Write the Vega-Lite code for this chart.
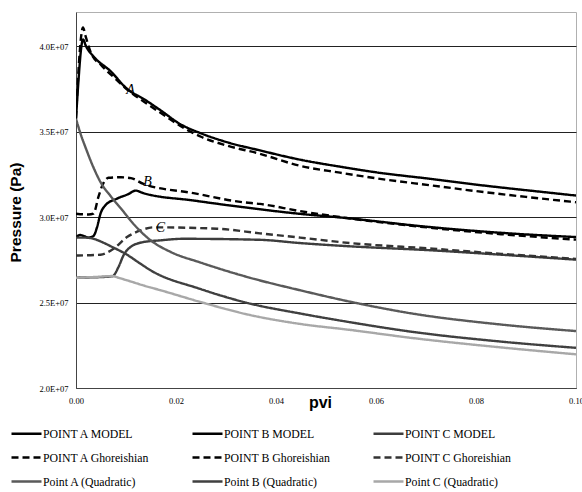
{
  "$schema": "https://vega.github.io/schema/vega-lite/v6.json",
  "width": 500,
  "height": 376,
  "autosize": {"type": "none"},
  "padding": {"left": 76, "top": 12, "right": 6, "bottom": 104},
  "background": "white",
  "config": {"view": {"stroke": "#b0b0b0", "strokeWidth": 1}},
  "datasets": {
    "curves": [
      {"s": "POINT A MODEL", "x": 0, "p": 3.575e7},
      {"s": "POINT A MODEL", "x": 0.0005, "p": 3.80e7},
      {"s": "POINT A MODEL", "x": 0.001, "p": 3.98e7},
      {"s": "POINT A MODEL", "x": 0.0014, "p": 4.04e7},
      {"s": "POINT A MODEL", "x": 0.002, "p": 4.00e7},
      {"s": "POINT A MODEL", "x": 0.0035, "p": 3.94e7},
      {"s": "POINT A MODEL", "x": 0.0069, "p": 3.854e7},
      {"s": "POINT A MODEL", "x": 0.0103, "p": 3.748e7},
      {"s": "POINT A MODEL", "x": 0.0136, "p": 3.69e7},
      {"s": "POINT A MODEL", "x": 0.0169, "p": 3.625e7},
      {"s": "POINT A MODEL", "x": 0.0208, "p": 3.545e7},
      {"s": "POINT A MODEL", "x": 0.025, "p": 3.49e7},
      {"s": "POINT A MODEL", "x": 0.03, "p": 3.44e7},
      {"s": "POINT A MODEL", "x": 0.0368, "p": 3.39e7},
      {"s": "POINT A MODEL", "x": 0.0448, "p": 3.336e7},
      {"s": "POINT A MODEL", "x": 0.0528, "p": 3.295e7},
      {"s": "POINT A MODEL", "x": 0.06, "p": 3.262e7},
      {"s": "POINT A MODEL", "x": 0.0714, "p": 3.222e7},
      {"s": "POINT A MODEL", "x": 0.08, "p": 3.19e7},
      {"s": "POINT A MODEL", "x": 0.086, "p": 3.17e7},
      {"s": "POINT A MODEL", "x": 0.093, "p": 3.148e7},
      {"s": "POINT A MODEL", "x": 0.1, "p": 3.126e7},

      {"s": "POINT B MODEL", "x": 0, "p": 2.88e7},
      {"s": "POINT B MODEL", "x": 0.0008, "p": 2.895e7},
      {"s": "POINT B MODEL", "x": 0.0015, "p": 2.89e7},
      {"s": "POINT B MODEL", "x": 0.0025, "p": 2.88e7},
      {"s": "POINT B MODEL", "x": 0.0035, "p": 2.89e7},
      {"s": "POINT B MODEL", "x": 0.0042, "p": 2.94e7},
      {"s": "POINT B MODEL", "x": 0.0049, "p": 3.02e7},
      {"s": "POINT B MODEL", "x": 0.0059, "p": 3.07e7},
      {"s": "POINT B MODEL", "x": 0.0082, "p": 3.108e7},
      {"s": "POINT B MODEL", "x": 0.0105, "p": 3.135e7},
      {"s": "POINT B MODEL", "x": 0.0119, "p": 3.155e7},
      {"s": "POINT B MODEL", "x": 0.0135, "p": 3.14e7},
      {"s": "POINT B MODEL", "x": 0.0235, "p": 3.097e7},
      {"s": "POINT B MODEL", "x": 0.0334, "p": 3.058e7},
      {"s": "POINT B MODEL", "x": 0.0448, "p": 3.019e7},
      {"s": "POINT B MODEL", "x": 0.0528, "p": 2.998e7},
      {"s": "POINT B MODEL", "x": 0.0714, "p": 2.94e7},
      {"s": "POINT B MODEL", "x": 0.085, "p": 2.908e7},
      {"s": "POINT B MODEL", "x": 0.1, "p": 2.883e7},

      {"s": "POINT C MODEL", "x": 0, "p": 2.646e7},
      {"s": "POINT C MODEL", "x": 0.004, "p": 2.648e7},
      {"s": "POINT C MODEL", "x": 0.0073, "p": 2.654e7},
      {"s": "POINT C MODEL", "x": 0.0085, "p": 2.708e7},
      {"s": "POINT C MODEL", "x": 0.0095, "p": 2.776e7},
      {"s": "POINT C MODEL", "x": 0.0109, "p": 2.825e7},
      {"s": "POINT C MODEL", "x": 0.0135, "p": 2.854e7},
      {"s": "POINT C MODEL", "x": 0.0169, "p": 2.864e7},
      {"s": "POINT C MODEL", "x": 0.0214, "p": 2.873e7},
      {"s": "POINT C MODEL", "x": 0.0368, "p": 2.867e7},
      {"s": "POINT C MODEL", "x": 0.0448, "p": 2.848e7},
      {"s": "POINT C MODEL", "x": 0.0548, "p": 2.829e7},
      {"s": "POINT C MODEL", "x": 0.0714, "p": 2.805e7},
      {"s": "POINT C MODEL", "x": 0.085, "p": 2.78e7},
      {"s": "POINT C MODEL", "x": 0.1, "p": 2.751e7},

      {"s": "POINT A Ghoreishian", "x": 0, "p": 3.58e7},
      {"s": "POINT A Ghoreishian", "x": 0.0005, "p": 3.86e7},
      {"s": "POINT A Ghoreishian", "x": 0.001, "p": 4.05e7},
      {"s": "POINT A Ghoreishian", "x": 0.0014, "p": 4.11e7},
      {"s": "POINT A Ghoreishian", "x": 0.0019, "p": 4.06e7},
      {"s": "POINT A Ghoreishian", "x": 0.003, "p": 3.96e7},
      {"s": "POINT A Ghoreishian", "x": 0.005, "p": 3.89e7},
      {"s": "POINT A Ghoreishian", "x": 0.0075, "p": 3.82e7},
      {"s": "POINT A Ghoreishian", "x": 0.0103, "p": 3.745e7},
      {"s": "POINT A Ghoreishian", "x": 0.0136, "p": 3.675e7},
      {"s": "POINT A Ghoreishian", "x": 0.0169, "p": 3.61e7},
      {"s": "POINT A Ghoreishian", "x": 0.0208, "p": 3.535e7},
      {"s": "POINT A Ghoreishian", "x": 0.025, "p": 3.47e7},
      {"s": "POINT A Ghoreishian", "x": 0.03, "p": 3.42e7},
      {"s": "POINT A Ghoreishian", "x": 0.0368, "p": 3.37e7},
      {"s": "POINT A Ghoreishian", "x": 0.0448, "p": 3.30e7},
      {"s": "POINT A Ghoreishian", "x": 0.0528, "p": 3.26e7},
      {"s": "POINT A Ghoreishian", "x": 0.06, "p": 3.227e7},
      {"s": "POINT A Ghoreishian", "x": 0.0714, "p": 3.184e7},
      {"s": "POINT A Ghoreishian", "x": 0.08, "p": 3.152e7},
      {"s": "POINT A Ghoreishian", "x": 0.09, "p": 3.118e7},
      {"s": "POINT A Ghoreishian", "x": 0.1, "p": 3.087e7},

      {"s": "POINT B Ghoreishian", "x": 0, "p": 3.02e7},
      {"s": "POINT B Ghoreishian", "x": 0.0025, "p": 3.015e7},
      {"s": "POINT B Ghoreishian", "x": 0.0035, "p": 3.02e7},
      {"s": "POINT B Ghoreishian", "x": 0.0045, "p": 3.12e7},
      {"s": "POINT B Ghoreishian", "x": 0.0055, "p": 3.20e7},
      {"s": "POINT B Ghoreishian", "x": 0.0065, "p": 3.23e7},
      {"s": "POINT B Ghoreishian", "x": 0.009, "p": 3.233e7},
      {"s": "POINT B Ghoreishian", "x": 0.011, "p": 3.228e7},
      {"s": "POINT B Ghoreishian", "x": 0.0135, "p": 3.194e7},
      {"s": "POINT B Ghoreishian", "x": 0.0235, "p": 3.14e7},
      {"s": "POINT B Ghoreishian", "x": 0.0334, "p": 3.087e7},
      {"s": "POINT B Ghoreishian", "x": 0.0368, "p": 3.077e7},
      {"s": "POINT B Ghoreishian", "x": 0.0448, "p": 3.035e7},
      {"s": "POINT B Ghoreishian", "x": 0.0528, "p": 3.0e7},
      {"s": "POINT B Ghoreishian", "x": 0.0714, "p": 2.936e7},
      {"s": "POINT B Ghoreishian", "x": 0.085, "p": 2.90e7},
      {"s": "POINT B Ghoreishian", "x": 0.1, "p": 2.868e7},

      {"s": "POINT C Ghoreishian", "x": 0, "p": 2.775e7},
      {"s": "POINT C Ghoreishian", "x": 0.0049, "p": 2.78e7},
      {"s": "POINT C Ghoreishian", "x": 0.0075, "p": 2.815e7},
      {"s": "POINT C Ghoreishian", "x": 0.0102, "p": 2.883e7},
      {"s": "POINT C Ghoreishian", "x": 0.0129, "p": 2.922e7},
      {"s": "POINT C Ghoreishian", "x": 0.0155, "p": 2.94e7},
      {"s": "POINT C Ghoreishian", "x": 0.0282, "p": 2.932e7},
      {"s": "POINT C Ghoreishian", "x": 0.0368, "p": 2.905e7},
      {"s": "POINT C Ghoreishian", "x": 0.0448, "p": 2.88e7},
      {"s": "POINT C Ghoreishian", "x": 0.0548, "p": 2.848e7},
      {"s": "POINT C Ghoreishian", "x": 0.0714, "p": 2.815e7},
      {"s": "POINT C Ghoreishian", "x": 0.085, "p": 2.785e7},
      {"s": "POINT C Ghoreishian", "x": 0.1, "p": 2.755e7},

      {"s": "Point A (Quadratic)", "x": 0, "p": 3.575e7},
      {"s": "Point A (Quadratic)", "x": 0.001, "p": 3.48e7},
      {"s": "Point A (Quadratic)", "x": 0.002, "p": 3.40e7},
      {"s": "Point A (Quadratic)", "x": 0.0035, "p": 3.29e7},
      {"s": "Point A (Quadratic)", "x": 0.005, "p": 3.20e7},
      {"s": "Point A (Quadratic)", "x": 0.007, "p": 3.12e7},
      {"s": "Point A (Quadratic)", "x": 0.009, "p": 3.05e7},
      {"s": "Point A (Quadratic)", "x": 0.0115, "p": 2.96e7},
      {"s": "Point A (Quadratic)", "x": 0.0149, "p": 2.865e7},
      {"s": "Point A (Quadratic)", "x": 0.019, "p": 2.795e7},
      {"s": "Point A (Quadratic)", "x": 0.0248, "p": 2.735e7},
      {"s": "Point A (Quadratic)", "x": 0.0348, "p": 2.645e7},
      {"s": "Point A (Quadratic)", "x": 0.0448, "p": 2.572e7},
      {"s": "Point A (Quadratic)", "x": 0.0548, "p": 2.505e7},
      {"s": "Point A (Quadratic)", "x": 0.0674, "p": 2.435e7},
      {"s": "Point A (Quadratic)", "x": 0.0841, "p": 2.374e7},
      {"s": "Point A (Quadratic)", "x": 0.1, "p": 2.333e7},

      {"s": "Point B (Quadratic)", "x": 0, "p": 2.88e7},
      {"s": "Point B (Quadratic)", "x": 0.002, "p": 2.88e7},
      {"s": "Point B (Quadratic)", "x": 0.0035, "p": 2.873e7},
      {"s": "Point B (Quadratic)", "x": 0.0055, "p": 2.85e7},
      {"s": "Point B (Quadratic)", "x": 0.0069, "p": 2.83e7},
      {"s": "Point B (Quadratic)", "x": 0.0102, "p": 2.78e7},
      {"s": "Point B (Quadratic)", "x": 0.0125, "p": 2.735e7},
      {"s": "Point B (Quadratic)", "x": 0.0149, "p": 2.689e7},
      {"s": "Point B (Quadratic)", "x": 0.0248, "p": 2.58e7},
      {"s": "Point B (Quadratic)", "x": 0.0348, "p": 2.494e7},
      {"s": "Point B (Quadratic)", "x": 0.0448, "p": 2.436e7},
      {"s": "Point B (Quadratic)", "x": 0.0548, "p": 2.385e7},
      {"s": "Point B (Quadratic)", "x": 0.0674, "p": 2.328e7},
      {"s": "Point B (Quadratic)", "x": 0.0841, "p": 2.274e7},
      {"s": "Point B (Quadratic)", "x": 0.1, "p": 2.235e7},

      {"s": "Point C (Quadratic)", "x": 0, "p": 2.645e7},
      {"s": "Point C (Quadratic)", "x": 0.004, "p": 2.65e7},
      {"s": "Point C (Quadratic)", "x": 0.0073, "p": 2.655e7},
      {"s": "Point C (Quadratic)", "x": 0.0085, "p": 2.645e7},
      {"s": "Point C (Quadratic)", "x": 0.0102, "p": 2.63e7},
      {"s": "Point C (Quadratic)", "x": 0.0135, "p": 2.60e7},
      {"s": "Point C (Quadratic)", "x": 0.0169, "p": 2.572e7},
      {"s": "Point C (Quadratic)", "x": 0.0248, "p": 2.504e7},
      {"s": "Point C (Quadratic)", "x": 0.0348, "p": 2.427e7},
      {"s": "Point C (Quadratic)", "x": 0.0448, "p": 2.375e7},
      {"s": "Point C (Quadratic)", "x": 0.0548, "p": 2.34e7},
      {"s": "Point C (Quadratic)", "x": 0.0674, "p": 2.292e7},
      {"s": "Point C (Quadratic)", "x": 0.0841, "p": 2.24e7},
      {"s": "Point C (Quadratic)", "x": 0.1, "p": 2.197e7}
    ],
    "notes": [
      {"x": 0.0109, "p": 3.742e7, "t": "A"},
      {"x": 0.0143, "p": 3.203e7, "t": "B"},
      {"x": 0.0169, "p": 2.935e7, "t": "C"}
    ]
  },
  "encoding": {
    "x": {
      "field": "x", "type": "quantitative",
      "scale": {"domain": [0, 0.1], "nice": false, "zero": false},
      "axis": {
        "values": [0, 0.02, 0.04, 0.06, 0.08, 0.1], "format": ".2f",
        "title": "pvi", "grid": false, "ticks": false,
        "labelPadding": 8, "labelFont": "Liberation Serif", "labelFontSize": 8.5,
        "labelColor": "#000", "labelFlush": false, "labelOverlap": false,
        "domainColor": "#444", "domainWidth": 1,
        "titleFont": "Liberation Sans", "titleFontSize": 16, "titleFontWeight": "bold",
        "titleColor": "#000", "titleX": 244, "titleY": 19, "titleBaseline": "alphabetic", "titleAlign": "center"
      }
    },
    "y": {
      "field": "p", "type": "quantitative",
      "scale": {"domain": [2e7, 4.2e7], "nice": false, "zero": false},
      "axis": {
        "values": [2e7, 2.5e7, 3e7, 3.5e7, 4e7],
        "labelExpr": "format(datum.value/1e7, '.1f') + 'E+07'",
        "title": "Pressure (Pa)", "grid": true, "gridColor": "#222", "gridWidth": 1,
        "ticks": false, "labelPadding": 8, "labelFont": "Liberation Serif", "labelFontSize": 8.5,
        "labelColor": "#000", "labelFlush": false, "labelOverlap": false,
        "domainColor": "#444", "domainWidth": 1,
        "titleFont": "Liberation Sans", "titleFontSize": 15.5, "titleFontWeight": "bold",
        "titleColor": "#000", "titleAngle": 270, "titleX": -61, "titleY": 200,
        "titleAlign": "center", "titleBaseline": "middle"
      }
    }
  },
  "layer": [
    {
      "data": {"name": "curves"},
      "mark": {"type": "line", "strokeWidth": 2.4, "clip": true, "interpolate": "monotone"},
      "encoding": {
        "color": {
          "field": "s", "type": "nominal",
          "scale": {
            "domain": ["POINT A MODEL", "POINT A Ghoreishian", "Point A (Quadratic)", "POINT B MODEL", "POINT B Ghoreishian", "Point B (Quadratic)", "POINT C MODEL", "POINT C Ghoreishian", "Point C (Quadratic)"],
            "range": ["#000000", "#000000", "#5a5a5a", "#000000", "#000000", "#404040", "#3d3d3d", "#333333", "#a8a8a8"]
          },
          "legend": {
            "title": null, "orient": "none", "legendX": -66, "legendY": 405, "columns": 3,
            "symbolType": "stroke", "symbolSize": 900, "symbolStrokeWidth": 2.5,
            "labelFont": "Liberation Serif", "labelFontSize": 11.8, "labelColor": "#000",
            "columnPadding": 37, "rowPadding": 0, "labelOffset": 0
          }
        },
        "strokeDash": {
          "field": "s", "type": "nominal",
          "scale": {
            "domain": ["POINT A MODEL", "POINT A Ghoreishian", "Point A (Quadratic)", "POINT B MODEL", "POINT B Ghoreishian", "Point B (Quadratic)", "POINT C MODEL", "POINT C Ghoreishian", "Point C (Quadratic)"],
            "range": [[1, 0], [7, 4], [1, 0], [1, 0], [7, 4], [1, 0], [1, 0], [7, 4], [1, 0]]
          },
          "legend": {
            "title": null, "orient": "none", "legendX": -66, "legendY": 405, "columns": 3,
            "symbolType": "stroke", "symbolSize": 900, "symbolStrokeWidth": 2.5,
            "labelFont": "Liberation Serif", "labelFontSize": 11.8, "labelColor": "#000",
            "columnPadding": 37, "rowPadding": 0, "labelOffset": 0
          }
        }
      }
    },
    {
      "data": {"name": "notes"},
      "mark": {"type": "text", "font": "Liberation Serif", "fontStyle": "italic", "fontSize": 14, "color": "#000"},
      "encoding": {"text": {"field": "t"}}
    }
  ]
}
